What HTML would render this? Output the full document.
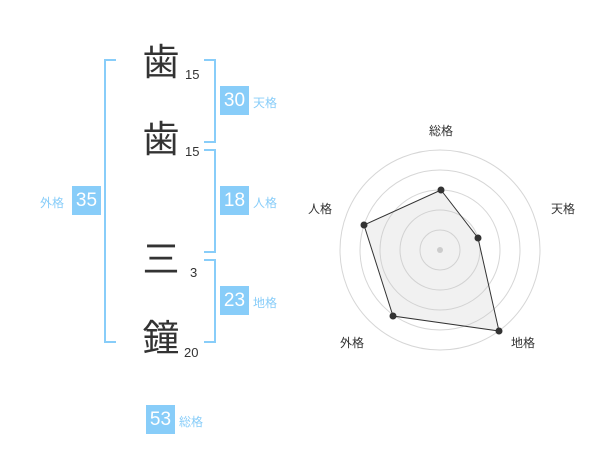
<!DOCTYPE html>
<html><head><meta charset="utf-8"><style>
body{margin:0;width:600px;height:470px;background:#fff;position:relative;overflow:hidden;font-family:"Liberation Sans","Noto Sans CJK JP",sans-serif}
.k{position:absolute;left:140px;font-size:37px;line-height:40px;color:#333;width:42px;text-align:center}
.n{position:absolute;font-size:13px;color:#333}
.b{position:absolute;background:#88cdf9;color:#fff;font-size:19px;width:29px;height:29px;line-height:29px;text-align:center}
.l{position:absolute;font-size:12px;color:#88cdf9}
.br{position:absolute;border:2px solid #88cdf9}
</style></head><body>
<div class="br" style="left:104px;top:59px;width:10px;height:280px;border-right:none"></div>
<div class="br" style="left:204px;top:59px;width:10px;height:80px;border-left:none"></div>
<div class="br" style="left:204px;top:149px;width:10px;height:100px;border-left:none"></div>
<div class="br" style="left:204px;top:259px;width:10px;height:80px;border-left:none"></div>
<div class="k" style="top:43px">歯</div><div class="n" style="left:185px;top:67px">15</div>
<div class="k" style="top:120px">歯</div><div class="n" style="left:185px;top:144px">15</div>
<div class="k" style="top:240px">三</div><div class="n" style="left:190px;top:265px">3</div>
<div class="k" style="top:319px">鐘</div><div class="n" style="left:184px;top:345px">20</div>
<div class="b" style="left:220px;top:86px">30</div><div class="l" style="left:253px;top:94px">天格</div>
<div class="b" style="left:220px;top:186px">18</div><div class="l" style="left:253px;top:194px">人格</div>
<div class="b" style="left:220px;top:286px">23</div><div class="l" style="left:253px;top:294px">地格</div>
<div class="b" style="left:72px;top:186px">35</div><div class="l" style="left:40px;top:194px">外格</div>
<div class="b" style="left:146px;top:405px">53</div><div class="l" style="left:179px;top:413px">総格</div>
<svg width="600" height="470" style="position:absolute;left:0;top:0">
<g fill="none" stroke="#d6d6d6" stroke-width="1">
<circle cx="440" cy="250" r="20"/><circle cx="440" cy="250" r="40"/><circle cx="440" cy="250" r="60"/><circle cx="440" cy="250" r="80"/><circle cx="440" cy="250" r="100"/></g>
<polygon points="441,190 478,238 499,331 393,316 364,225" fill="rgba(200,200,200,0.25)" stroke="#333" stroke-width="1"/>
<circle cx="440" cy="250" r="3" fill="#ccc"/>
<g fill="#333"><circle cx="441" cy="190" r="3.5"/><circle cx="478" cy="238" r="3.5"/><circle cx="499" cy="331" r="3.5"/><circle cx="393" cy="316" r="3.5"/><circle cx="364" cy="225" r="3.5"/></g>
<g font-size="12" fill="#333" font-family="Liberation Sans,Noto Sans CJK JP,sans-serif" text-anchor="middle">
<text x="441" y="135">総格</text><text x="563" y="213">天格</text><text x="523" y="347">地格</text><text x="352" y="347">外格</text><text x="320" y="213">人格</text></g>
</svg>
</body></html>
